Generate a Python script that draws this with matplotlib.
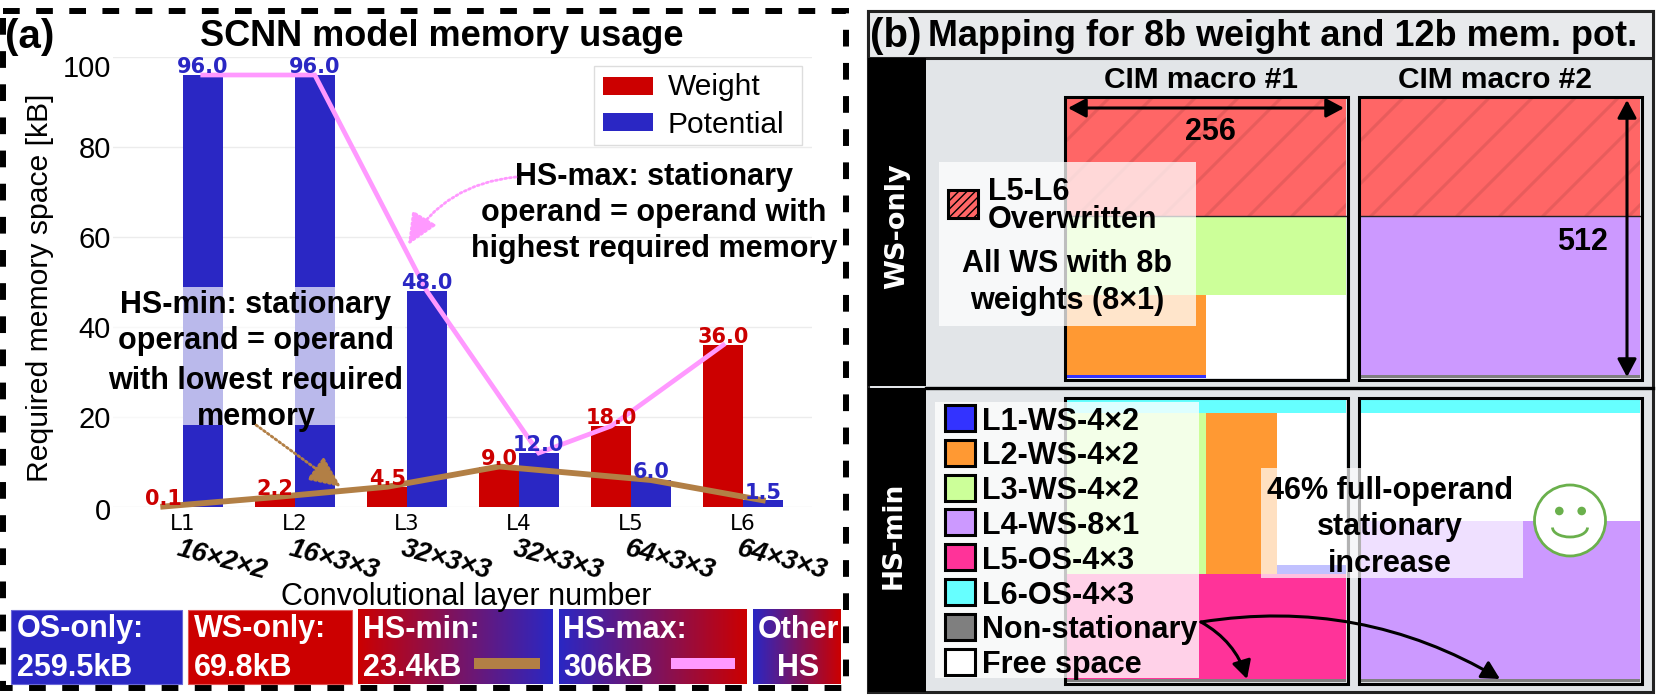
import numpy as np
import matplotlib
matplotlib.use("Agg")
import matplotlib.pyplot as plt
from matplotlib.colors import LinearSegmentedColormap
from matplotlib.patches import Rectangle, Circle, Arc, FancyArrowPatch

# chart values
capas = ["L1", "L2", "L3", "L4", "L5", "L6"]
dimensiones = ["16×2×2", "16×3×3", "32×3×3", "32×3×3", "64×3×3", "64×3×3"]
peso = [0.1, 2.2, 4.5, 9.0, 18.0, 36.0]
potencial = [96.0, 96.0, 48.0, 12.0, 6.0, 1.5]
y_ticks = [0, 20, 40, 60, 80, 100]

# memory mapping, cells as (first col, last col, first row, last row, color name)
ws_macro1 = [(0, 256, 0, 215, "over"), (0, 256, 215, 361, "L3"), (0, 128, 361, 506, "L2"), (0, 128, 506, 512, "L1")]
ws_macro2 = [(0, 256, 0, 215, "over"), (0, 256, 215, 507, "L4"), (0, 256, 507, 512, "non")]
hs_macro1 = [(0, 256, 0, 26, "L6"), (0, 128, 26, 316, "L3"), (128, 193, 26, 316, "L2"),
             (193, 256, 300, 316, "L1"), (0, 256, 316, 507, "L5"), (0, 256, 507, 512, "non")]
hs_macro2 = [(0, 256, 0, 26, "L6"), (0, 256, 220, 507, "L4"), (0, 256, 507, 512, "non")]
leyenda_hs = ["L1-WS-4×2", "L2-WS-4×2", "L3-WS-4×2", "L4-WS-8×1", "L5-OS-4×3", "L6-OS-4×3", "Non-stationary", "Free space"]
leyenda_col = ["L1", "L2", "L3", "L4", "L5", "L6", "non", "free"]

ROJO = "#cc0000"
AZUL = "#2a27c4"
ROSA = "#ff99ff"
MARRON = "#b27f45"
COLORES = {"over": "#ff6666", "L1": "#3333ff", "L2": "#ff9933", "L3": "#ccff99", "L4": "#cc99ff",
           "L5": "#ff3399", "L6": "#66ffff", "non": "#7f7f7f", "free": "#ffffff"}
ARIAL = "Liberation Sans"

W, H = 1661, 697
fig = plt.figure(figsize=(W / 100, H / 100), dpi=100)

# (a) bar chart
ax = fig.add_axes([113 / W, 1 - 507 / H, (812 - 113) / W, 450 / H])
ax.set_zorder(1)
x = np.arange(len(capas))
ancho = 0.353
b1 = ax.bar(x - ancho / 2, peso, ancho, color=ROJO, label="Weight")
b2 = ax.bar(x + ancho / 2, potencial, ancho, color=AZUL, label="Potential")
ax.set_xlim((113 - 183) / 112, (812 - 183) / 112)
ax.set_ylim(0, 100)
ax.set_yticks(y_ticks)
ax.set_yticklabels([])
ax.set_xticks(x)
ax.set_xticklabels(capas, fontsize=15.5, family="DejaVu Sans")
ax.tick_params(length=0, pad=5)
ax.grid(axis="y", color="#ececec", lw=1)
ax.set_axisbelow(True)
for s in ax.spines.values():
    s.set_visible(False)
for b, v, c in [(b1, peso, ROJO), (b2, potencial, AZUL)]:
    for r, val in zip(b, v):
        ax.annotate(f"{val:.1f}", (r.get_x() + r.get_width() / 2, val), xytext=(0, 1.2), textcoords="offset points",
                    ha="center", va="baseline", color=c, fontsize=15, fontweight="bold", family="DejaVu Sans",
                    zorder=6, clip_on=False)
# highest / lowest operand lines
x_max = [i + ancho / 2 if p >= w else i - ancho / 2 for i, (w, p) in enumerate(zip(peso, potencial))]
y_max = [max(w, p) for w, p in zip(peso, potencial)]
x_min = [i - ancho / 2 if w <= p else i + ancho / 2 for i, (w, p) in enumerate(zip(peso, potencial))]
y_min = [min(w, p) for w, p in zip(peso, potencial)]
ax.plot(x_max, y_max, color=ROSA, lw=3.4, zorder=5, solid_joinstyle="miter", clip_on=False)
ax.plot(x_min, y_min, color=MARRON, lw=4.2, zorder=5, solid_joinstyle="miter", clip_on=False)

# everything else goes on a pixel overlay
ov = fig.add_axes([0, 0, 1, 1])
ov.set_zorder(2)
ov.patch.set_alpha(0)
ov.axis("off")


def texto(px, py, s, size=22, ha="left", bold=True, color="black", family=ARIAL, va="center_baseline", **kw):
    ov.text(px, py, s, fontsize=size, ha=ha, va=va, color=color, family=family,
            fontweight="bold" if bold else "normal", **kw)


def caja(x0, y0, x1, y1, **kw):
    ov.add_patch(Rectangle((x0, y0), x1 - x0, y1 - y0, **kw))


def flecha(p0, p1, color="black", lw=2.2, rad=0.0, style="-|>,head_length=0.45,head_width=0.24", ms=24, ls="-"):
    ov.add_patch(FancyArrowPatch(p0, p1, arrowstyle=style, mutation_scale=ms, color=color, lw=lw, ls=ls,
                                 connectionstyle=f"arc3,rad={rad}", shrinkA=0, shrinkB=0, zorder=8))


# dashed frame of panel (a)
caja(3, 11, 846, 688, fill=False, ec="black", lw=4.3, ls=(0, (2.8, 2.75)))
texto(5, 33, "(a)", size=29)
texto(442, 33, "SCNN model memory usage", size=26, ha="center")
texto(40, 288, "Required memory space [kB]", size=21.7, ha="center", bold=False, rotation=90, va="center")
texto(466, 593, "Convolutional layer number", size=22, ha="center", bold=False)

# y tick labels, the top one sits a bit lower than its gridline
for t, dy in zip(y_ticks, [2, 0, 0, 0, 0, 9]):
    texto(111, 507 - t * 4.5 + dy, str(t), size=21, ha="right", bold=False)

for i, d in enumerate(dimensiones):
    texto(223 + 112 * i, 557.5, d, size=19.5, ha="center", rotation=-15, rotation_mode="anchor", style="italic")

# legend
caja(594, 66, 802, 145, fc="white", ec="#dddddd", lw=1)
caja(603, 77, 653, 95, fc=ROJO)
caja(603, 113, 653, 131, fc=AZUL)
texto(668, 84, "Weight", size=21.5, bold=False)
texto(668, 122, "Potential", size=21.5, bold=False)

# translucent box behind the HS-min note
caja(111, 287, 405, 425, fc="white", alpha=0.68, lw=0, zorder=3)
for yy, s in zip([302, 337, 377, 413], ["HS-min: stationary", "operand = operand", "with lowest required", "memory"]):
    texto(256, yy, s, ha="center", zorder=7)
for yy, s in zip([174, 210, 246], ["HS-max: stationary", "operand = operand with", "highest required memory"]):
    texto(654, yy, s, ha="center", zorder=7)
punta = "-|>,head_length=0.65,head_width=0.29"
flecha((516, 177), (408, 245), color=ROSA, lw=2, rad=0.25, ls=(0, (0.7, 1.0)), style=punta, ms=30)
flecha((256, 425), (341, 487), color=MARRON, lw=2, ls=(0, (0.7, 1.0)), style=punta, ms=30)

# bottom summary boxes
az = matplotlib.colors.to_rgb(AZUL)
ro = matplotlib.colors.to_rgb(ROJO)
grad_ra = LinearSegmentedColormap.from_list("ra", [ro, az])
grad_ar = LinearSegmentedColormap.from_list("ar", [az, ro])
rampa = np.linspace(0, 1, 256).reshape(1, -1)
Y0, Y1 = 609.5, 684
for x0, x1, cm in [(11, 182, "az"), (187.5, 351.5, "ro"), (358, 553, grad_ra), (559, 747, grad_ar), (753, 841, grad_ar)]:
    if cm == "az":
        caja(x0, Y0, x1, Y1, fc=AZUL, ec="#6a68d8", lw=0.8)
    elif cm == "ro":
        caja(x0, Y0, x1, Y1, fc=ROJO, ec="#e05555", lw=0.8)
    else:
        ov.imshow(rampa, extent=(x0, x1, Y1, Y0), cmap=cm, aspect="auto", zorder=1)
for px, a, b in [(17, "OS-only:", "259.5kB"), (193.5, "WS-only:", "69.8kB"), (363, "HS-min:", "23.4kB"), (563, "HS-max:", "306kB")]:
    texto(px, 626, a, color="white")
    texto(px, 664, b, color="white")
texto(798, 626, "Other", ha="center", color="white")
texto(798, 664, "HS", ha="center", color="white")
caja(474, 658, 540, 669, fc=MARRON, zorder=3)
caja(671, 658, 735, 669, fc=ROSA, zorder=3)

# (b) panel
caja(868, 11, 1652.5, 692, fc="#e2e5e8", ec="#222222", lw=2.2)
caja(868, 11, 1652.5, 58, fc="#e8eaec", ec="#222222", lw=2.2)
caja(868, 58, 925.5, 386, fc="black", lw=0)
caja(868, 388, 925.5, 692, fc="black", lw=0)
ov.plot([925.5, 1652.5], [388, 388], color="black", lw=2.4)
texto(870, 32, "(b)", size=29)
texto(928, 33, "Mapping for 8b weight and 12b mem. pot.", size=25.9)
texto(897, 226, "WS-only", size=19.5, ha="center", color="white", family="DejaVu Sans", rotation=90, va="center")
texto(894, 535, "HS-min", size=19, ha="center", color="white", family="DejaVu Sans", rotation=90, va="center")
texto(1201, 77, "CIM macro #1", size=21.5, ha="center")
texto(1495.5, 77, "CIM macro #2", size=21.5, ha="center")


def macro(x0, y0, x1, y1, celdas):
    # fills one macro from its cell list and adds the frame
    caja(x0, y0, x1, y1, fc="white", lw=0)
    sx = (x1 - x0) / 256
    sy = (y1 - y0) / 512
    for c0, c1, r0, r1, nom in celdas:
        caja(x0 + c0 * sx, y0 + r0 * sy, x0 + c1 * sx, y0 + r1 * sy, fc=COLORES[nom], lw=0)
        if nom == "over":
            rect = Rectangle((x0 + c0 * sx, y0 + r0 * sy), (c1 - c0) * sx, (r1 - r0) * sy, transform=ov.transData, fc="none", lw=0)
            ov.add_patch(rect)
            alto = (r1 - r0) * sy
            for d in np.arange(x0 - alto, x1 + alto, 43):
                l, = ov.plot([d, d + alto], [y0 + r1 * sy, y0 + r0 * sy], color="#e85c5c", lw=2.2)
                l.set_clip_path(rect)
    caja(x0 - 1.5, y0 - 1.5, x1 + 1.5, y1 + 1.5, fill=False, ec="black", lw=2.2, zorder=2.5)


macro(1066, 98, 1346, 378, ws_macro1)
macro(1360, 98, 1640, 378, ws_macro2)
macro(1066, 399, 1346, 682, hs_macro1)
macro(1360, 399, 1640, 682, hs_macro2)
ov.plot([1066, 1346], [216, 216], color="#222222", lw=1)
ov.plot([1360, 1640], [216, 216], color="#222222", lw=1)

doble = "<|-|>,head_length=0.45,head_width=0.24"
flecha((1068, 108), (1344, 108), style=doble)
flecha((1627, 100), (1627, 377), style=doble)
texto(1210, 128, "256", ha="center")
texto(1583, 239, "512", ha="center")

# translucent note boxes
caja(938.5, 162, 1196, 326, fc="white", alpha=0.75, lw=0, zorder=3)
caja(935, 402, 1199, 678, fc="white", alpha=0.78, lw=0, zorder=3)
caja(1260.5, 468, 1522.5, 578, fc="white", alpha=0.7, lw=0, zorder=3)

caja(948, 190, 978, 218, fc=COLORES["over"], ec="black", lw=2.2, hatch="////", zorder=4)
texto(987.5, 188, "L5-L6", zorder=7)
texto(987.5, 216, "Overwritten", zorder=7)
texto(1067, 260, "All WS with 8b", ha="center", zorder=7)
texto(1067, 298, "weights (8×1)", ha="center", zorder=7)

for i, (s, c) in enumerate(zip(leyenda_hs, leyenda_col)):
    yy = 418 + i * 34.8
    caja(945, yy - 13, 974.5, yy + 13, fc=COLORES[c], ec="black", lw=2.2, zorder=4)
    texto(982.5, yy, s, zorder=7)

for yy, s in zip([487, 524, 560], ["46% full-operand", "stationary", "increase"]):
    texto(1390, yy, s, ha="center", zorder=7)

# smiley
verde = "#6ab04c"
ov.add_patch(Circle((1570, 520.5), 35.5, fc="white", ec=verde, lw=2, zorder=7))
ov.add_patch(Circle((1559.3, 511), 4.3, fc=verde, lw=0, zorder=7))
ov.add_patch(Circle((1581.7, 511), 4.3, fc=verde, lw=0, zorder=7))
ov.add_patch(Arc((1570, 527.5), 35, 19, theta1=0, theta2=180, ec=verde, lw=2, zorder=7))

flecha((1201, 622), (1247, 679), rad=-0.2)
flecha((1201, 622), (1500, 679), rad=-0.18)

ov.set_xlim(0, W)
ov.set_ylim(H, 0)
fig.savefig("out.png", dpi=100)
